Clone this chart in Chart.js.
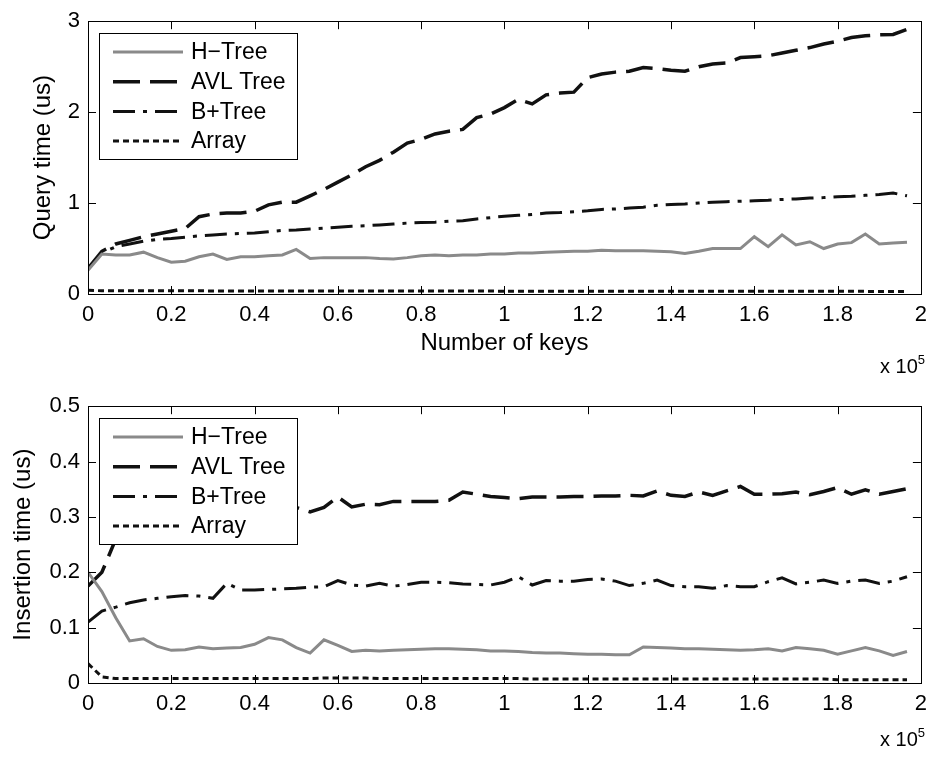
<!DOCTYPE html>
<html><head><meta charset="utf-8">
<script src="https://cdn.jsdelivr.net/npm/chart.js@4.4.0/dist/chart.umd.min.js"></script>
<style>
body{margin:0;background:#fff;width:935px;height:761px;position:relative;overflow:hidden;font-family:"Liberation Sans",Arial,Helvetica,sans-serif;}
canvas{position:absolute;left:0;}
.exp{position:absolute;font-size:20px;color:#000;line-height:20px;white-space:nowrap;}
.exp sup{font-size:13px;vertical-align:9px;line-height:0;}
</style></head><body>
<canvas id="c1" width="935" height="380" style="top:0"></canvas>
<canvas id="c2" width="935" height="376" style="top:385px"></canvas>
<div class="exp" style="right:10px;top:356px">x 10<sup>5</sup></div>
<div class="exp" style="right:10px;top:729px">x 10<sup>5</sup></div>
<script>
// Number of keys (x values)
const keys = [0,3333,6667,10000,13333,16667,20000,23333,26667,30000,33333,36667,40000,43333,46667,50000,53333,56667,60000,63333,66667,70000,73333,76667,80000,83333,86667,90000,93333,96667,100000,103333,106667,110000,113333,116667,120000,123333,126667,130000,133333,136667,140000,143333,146667,150000,153333,156667,160000,163333,166667,170000,173333,176667,180000,183333,186667,190000,193333,196667];
const seriesNames = ['H\u2212Tree','AVL Tree','B+Tree','Array'];

// Query time (us)
const queryHTree = [0.26,0.44,0.43,0.43,0.46,0.40,0.35,0.36,0.41,0.44,0.38,0.41,0.41,0.42,0.43,0.49,0.39,0.40,0.40,0.40,0.40,0.39,0.385,0.40,0.42,0.43,0.42,0.43,0.43,0.44,0.44,0.45,0.45,0.46,0.465,0.47,0.47,0.48,0.475,0.475,0.475,0.47,0.465,0.445,0.47,0.50,0.50,0.50,0.63,0.52,0.65,0.54,0.575,0.50,0.55,0.565,0.66,0.55,0.56,0.57];
const queryAVL = [0.28,0.47,0.55,0.59,0.63,0.66,0.69,0.72,0.85,0.88,0.89,0.89,0.91,0.98,1.01,1.01,1.08,1.15,1.23,1.31,1.40,1.47,1.56,1.66,1.70,1.76,1.79,1.81,1.94,1.98,2.05,2.14,2.09,2.19,2.21,2.22,2.38,2.42,2.44,2.45,2.49,2.48,2.46,2.45,2.50,2.53,2.54,2.60,2.61,2.62,2.65,2.68,2.71,2.75,2.78,2.82,2.84,2.85,2.855,2.91];
const queryBTree = [0.28,0.45,0.52,0.55,0.58,0.60,0.61,0.625,0.64,0.65,0.66,0.665,0.67,0.685,0.70,0.705,0.715,0.725,0.735,0.745,0.75,0.76,0.77,0.78,0.785,0.79,0.80,0.805,0.825,0.84,0.855,0.865,0.875,0.89,0.895,0.905,0.915,0.93,0.935,0.945,0.955,0.975,0.985,0.99,1.0,1.01,1.015,1.02,1.025,1.03,1.04,1.045,1.055,1.06,1.07,1.075,1.085,1.095,1.11,1.08];
const queryArray = [0.04,0.036,0.035,0.035,0.035,0.035,0.035,0.035,0.035,0.034,0.034,0.034,0.034,0.034,0.034,0.033,0.033,0.033,0.033,0.033,0.033,0.033,0.032,0.032,0.032,0.032,0.032,0.032,0.032,0.032,0.031,0.031,0.031,0.031,0.031,0.031,0.031,0.031,0.031,0.030,0.030,0.030,0.030,0.030,0.030,0.030,0.030,0.030,0.030,0.029,0.029,0.029,0.029,0.029,0.029,0.029,0.029,0.028,0.028,0.028];

// Insertion time (us)
const insHTree = [0.20,0.165,0.118,0.076,0.08,0.066,0.059,0.060,0.065,0.062,0.063,0.064,0.07,0.082,0.078,0.064,0.054,0.078,0.068,0.057,0.059,0.058,0.059,0.06,0.061,0.062,0.062,0.061,0.06,0.058,0.058,0.057,0.055,0.054,0.054,0.053,0.052,0.052,0.051,0.051,0.065,0.064,0.063,0.062,0.062,0.061,0.06,0.059,0.06,0.062,0.058,0.064,0.062,0.059,0.052,0.058,0.064,0.058,0.05,0.057];
const insAVL = [0.175,0.20,0.26,0.29,0.30,0.305,0.31,0.31,0.315,0.315,0.32,0.32,0.32,0.32,0.318,0.317,0.309,0.317,0.336,0.318,0.323,0.322,0.328,0.328,0.328,0.328,0.33,0.345,0.341,0.337,0.335,0.333,0.336,0.336,0.336,0.337,0.337,0.338,0.338,0.339,0.338,0.347,0.339,0.337,0.345,0.339,0.347,0.355,0.341,0.341,0.342,0.345,0.340,0.346,0.353,0.341,0.349,0.341,0.346,0.351];
const insBTree = [0.11,0.13,0.137,0.145,0.15,0.153,0.156,0.158,0.157,0.153,0.18,0.168,0.168,0.169,0.17,0.171,0.173,0.174,0.185,0.177,0.175,0.18,0.175,0.178,0.182,0.182,0.181,0.179,0.178,0.177,0.182,0.192,0.177,0.185,0.184,0.184,0.187,0.188,0.184,0.176,0.18,0.186,0.176,0.174,0.174,0.171,0.176,0.174,0.174,0.183,0.19,0.179,0.182,0.186,0.18,0.184,0.186,0.18,0.184,0.192];
const insArray = [0.035,0.011,0.008,0.008,0.008,0.008,0.008,0.008,0.008,0.008,0.008,0.008,0.008,0.008,0.008,0.008,0.008,0.009,0.009,0.009,0.009,0.008,0.008,0.008,0.008,0.008,0.008,0.008,0.008,0.008,0.008,0.008,0.007,0.007,0.007,0.007,0.007,0.007,0.007,0.007,0.007,0.007,0.007,0.007,0.007,0.007,0.007,0.007,0.007,0.007,0.007,0.007,0.007,0.007,0.006,0.006,0.006,0.006,0.006,0.006];

// Tick labels
const xTickLabels = ['0','0.2','0.4','0.6','0.8','1','1.2','1.4','1.6','1.8','2'];
const yTickLabelsQuery = ['0','1','2','3'];
const yTickLabelsIns = ['0','0.1','0.2','0.3','0.4','0.5'];

const FONT = '"Liberation Sans", Arial, Helvetica, sans-serif';
const styles = [
  {borderColor:'#8a8a8a', borderWidth:3, borderDash:[]},
  {borderColor:'#111', borderWidth:3.5, borderDash:[27,10]},
  {borderColor:'#111', borderWidth:3, borderDash:[22,8,4,8]},
  {borderColor:'#111', borderWidth:3, borderDash:[6,4]}
];

const matlabPlugin = {
  id:'matlabBox',
  afterDraw(chart){
    const {ctx, chartArea:a, scales:{x,y}} = chart;
    const o = chart.options.plugins.matlabBox;
    ctx.save();
    ctx.setLineDash([]);
    ctx.strokeStyle='#000'; ctx.lineWidth=1;
    ctx.strokeRect(Math.round(a.left)+0.5, Math.round(a.top)+0.5, Math.round(a.right-a.left), Math.round(a.bottom-a.top));
    const L=8;
    ctx.beginPath();
    x.ticks.forEach(t=>{const p=Math.round(x.getPixelForValue(t.value))+0.5; ctx.moveTo(p,a.bottom); ctx.lineTo(p,a.bottom-L); ctx.moveTo(p,a.top); ctx.lineTo(p,a.top+L);});
    y.ticks.forEach(t=>{const p=Math.round(y.getPixelForValue(t.value))+0.5; ctx.moveTo(a.left,p); ctx.lineTo(a.left+L,p); ctx.moveTo(a.right,p); ctx.lineTo(a.right-L,p);});
    ctx.stroke();
    // legend
    const bx=Math.round(a.left+o.dx), by=Math.round(a.top+o.dy);
    ctx.fillStyle='#fff'; ctx.fillRect(bx,by,o.w,o.h);
    ctx.strokeRect(bx+0.5,by+0.5,o.w,o.h);
    chart.data.datasets.forEach((ds,i)=>{
      const yy=by+o.row0+i*o.rowH;
      ctx.beginPath(); ctx.strokeStyle=ds.borderColor; ctx.lineWidth=ds.borderWidth;
      ctx.setLineDash(ds.borderDash||[]); ctx.moveTo(bx+14,yy); ctx.lineTo(bx+84,yy); ctx.stroke();
      ctx.setLineDash([]); ctx.fillStyle='#000'; ctx.font='23px '+FONT; ctx.textBaseline='middle';
      ctx.fillText(ds.label,bx+92,yy+1);
    });
    ctx.restore();
  }
};

function makeChart(id, series, yMax, yStep, yLabels, yTitle, yTitlePad, padTop, xAxisH, xTitle){
  return new Chart(document.getElementById(id), {
    type:'line',
    data:{labels:keys, datasets: series.map((d,i)=>Object.assign({label:seriesNames[i], data:d, pointRadius:0, fill:false, tension:0, borderCapStyle:'butt'}, styles[i]))},
    options:{
      responsive:false, animation:false,
      layout:{padding:{top:padTop,right:9,left:0,bottom:0}},
      plugins:{legend:{display:false}, tooltip:{enabled:false},
        matlabBox:{dx:11,dy:12,w:198,h:126,row0:19,rowH:29.7}},
      scales:{
        x:{type:'linear', min:0, max:200000,
          afterFit(s){s.height=xAxisH;},
          grid:{display:false, drawTicks:false}, border:{display:false},
          ticks:{stepSize:20000, autoSkip:false, maxRotation:0, padding:8, color:'#000', font:{family:FONT,size:22},
            callback:(v,i)=>xTickLabels[i]},
          title:{display:!!xTitle, text:xTitle||'', color:'#000', font:{family:FONT,size:24}, padding:{bottom:22,top:0}}},
        y:{min:0, max:yMax,
          afterFit(s){s.width=88;},
          grid:{display:false, drawTicks:false}, border:{display:false},
          ticks:{stepSize:yStep, padding:8, color:'#000', font:{family:FONT,size:22}, callback:(v,i)=>yLabels[i]},
          title:{display:true, text:yTitle, color:'#000', font:{family:FONT,size:24}, padding:{top:yTitlePad,bottom:0}}}
      }
    },
    plugins:[matlabPlugin]
  });
}

makeChart('c1',[queryHTree,queryAVL,queryBTree,queryArray],3,1,yTickLabelsQuery,'Query time (us)',29,16,86,'Number of keys');
makeChart('c2',[insHTree,insAVL,insBTree,insArray],0.5,0.1,yTickLabelsIns,'Insertion time (us)',9,19,78,'');
</script>
</body></html>
